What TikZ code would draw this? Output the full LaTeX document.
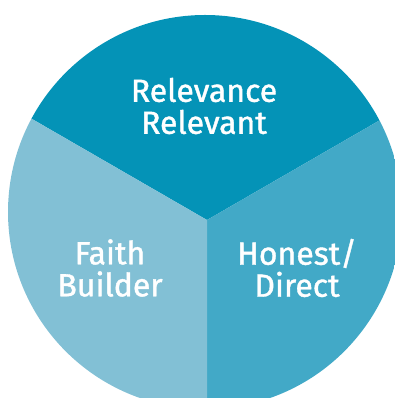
\documentclass[tikz,border=0pt]{standalone}
\usepackage{fontspec}
\setmainfont{Fira Sans}
\newfontfamily\sectorfont[FakeBold=1.2]{Fira Sans}
\usetikzlibrary{positioning}
\definecolor{topblue}{RGB}{4,147,183}
\definecolor{rightblue}{RGB}{66,169,199}
\definecolor{leftblue}{RGB}{130,192,213}

\begin{document}
\begin{tikzpicture}[x=1pt,y=1pt]
\tikzstyle{sectortext}=[text=white, font=\sectorfont\fontsize{32}{32}\selectfont, align=center, inner sep=0pt]

\useasboundingbox (0,0) rectangle (395,398);
\coordinate (centre) at (205,186);
\coordinate (apex) at (207,178);

\begin{scope}
\clip (0,0) rectangle (395,398);
\clip (centre) circle (197);
\fill[topblue] (apex) -- ++(150:500) -- ++(0:866) -- cycle;
\fill[rightblue] (apex) -- ++(30:500) -- ++(270:500) -- (apex |- 0,-400) -- cycle;
\fill[leftblue] (apex) -- ++(150:500) -- ++(270:500) -- (apex |- 0,-400) -- cycle;
\end{scope}

\node[sectortext](top) at (204,292){Relevance\\Relevant};
\node[sectortext](left) at (110,130){Faith\\Builder};
\node[sectortext](right) at (297,130){Honest/\\Direct};

\end{tikzpicture}
\end{document}
